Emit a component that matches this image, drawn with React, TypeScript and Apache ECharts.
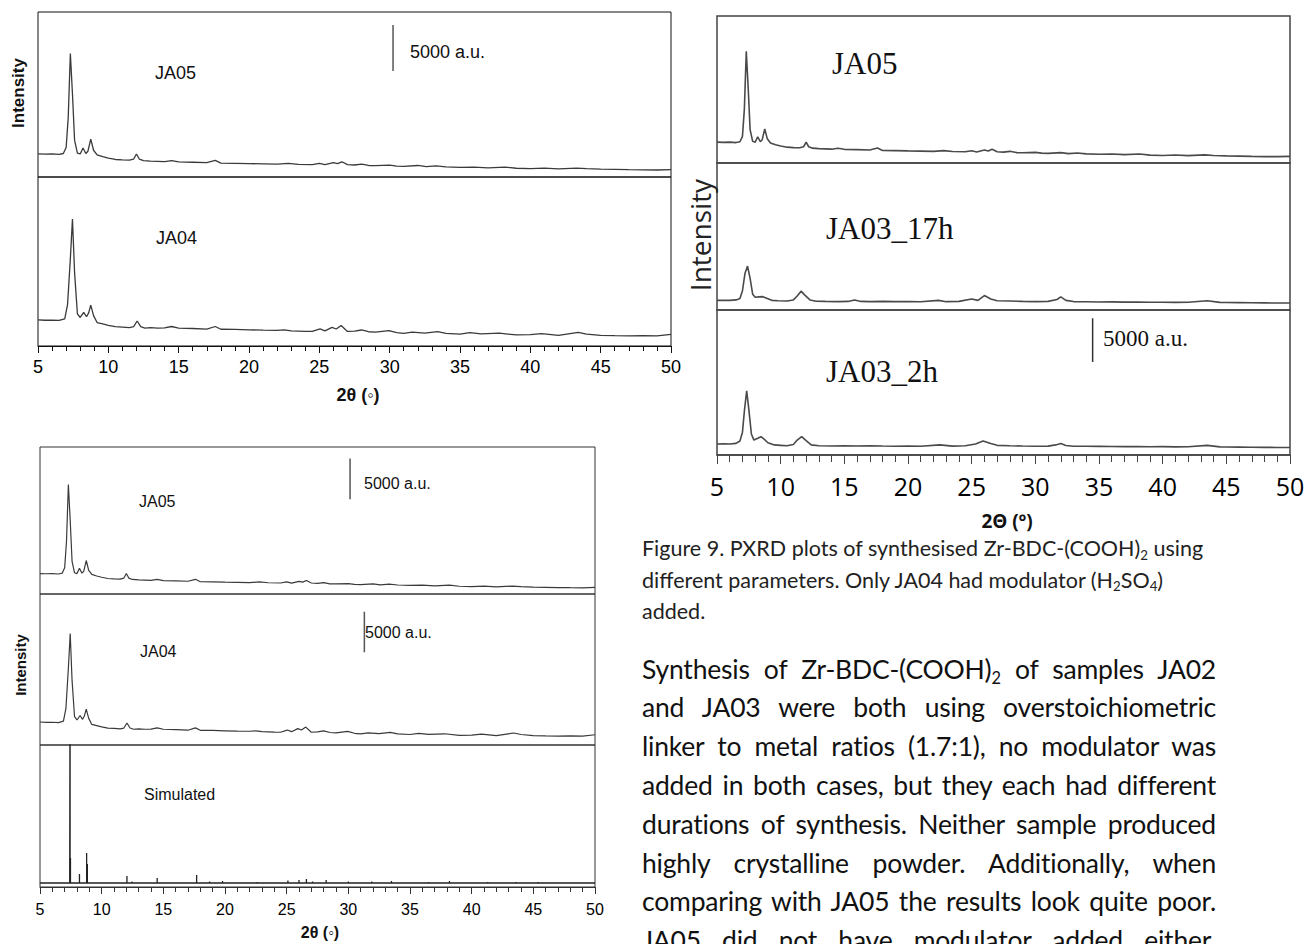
import React, { useEffect, useRef } from "react";
import * as echarts from "echarts";

// ---------- data: [2θ (deg), intensity (counts)] ----------
const ja05: number[][] = [
  [5.0, 2500], [5.5, 2480], [6.0, 2500], [6.5, 2450], [6.8, 2550], [7.0, 3200], [7.15, 6500], [7.3, 13400],
  [7.45, 9000], [7.6, 4000], [7.8, 2600], [8.0, 2500], [8.2, 3150], [8.4, 2550], [8.55, 2800], [8.75, 4100],
  [8.95, 2900], [9.2, 2400], [9.6, 2200], [10.0, 2050], [10.5, 1900], [11.0, 1850], [11.5, 1830], [11.8, 1950],
  [12.0, 2500], [12.2, 1950], [12.5, 1780], [13.0, 1720], [13.5, 1700], [14.0, 1660], [14.5, 1780], [15.0, 1640],
  [16.0, 1600], [17.0, 1560], [17.6, 1800], [18.0, 1500], [19.0, 1480], [20.0, 1450], [21.0, 1430], [22.0, 1400],
  [22.8, 1480], [23.5, 1380], [24.5, 1350], [25.0, 1480], [25.4, 1330], [26.0, 1550], [26.3, 1450], [26.6, 1650],
  [27.0, 1350], [27.5, 1300], [28.0, 1400], [28.5, 1250], [29.0, 1230], [30.0, 1280], [30.5, 1180], [31.0, 1150],
  [32.0, 1250], [32.6, 1120], [33.3, 1200], [34.0, 1100], [35.0, 1050], [36.0, 1080], [37.0, 1000], [38.2, 1080],
  [39.0, 950], [40.0, 900], [41.0, 960], [42.0, 880], [43.3, 970], [44.0, 900], [45.0, 850], [46.0, 820],
  [47.0, 790], [48.0, 770], [49.0, 760], [50.0, 800],
];

const ja04: number[][] = [
  [5.0, 2850], [5.5, 2800], [6.0, 2820], [6.5, 2780], [6.9, 2950], [7.1, 4500], [7.3, 9500], [7.45, 13800],
  [7.6, 8000], [7.8, 3500], [8.0, 3100], [8.25, 3650], [8.45, 3180], [8.6, 3600], [8.75, 4450], [8.95, 3300],
  [9.2, 2550], [9.6, 2400], [10.0, 2250], [10.5, 2100], [11.0, 2050], [11.5, 2000], [11.8, 2100], [12.05, 2720],
  [12.3, 2100], [12.6, 1950], [13.0, 1990], [13.5, 1950], [14.0, 1960], [14.5, 2120], [15.0, 1950], [16.0, 1900],
  [17.0, 1830], [17.6, 2120], [18.0, 1820], [19.0, 1800], [20.0, 1760], [21.0, 1720], [22.0, 1700], [22.5, 1760],
  [23.0, 1650], [24.0, 1600], [24.5, 1580], [25.05, 1850], [25.4, 1650], [25.9, 2030], [26.2, 1850], [26.55, 2220],
  [27.0, 1580], [27.5, 1620], [28.0, 1740], [28.5, 1550], [29.0, 1500], [29.95, 1680], [30.5, 1450], [31.0, 1380],
  [31.6, 1500], [32.5, 1400], [33.4, 1560], [34.0, 1380], [35.0, 1300], [35.7, 1450], [36.5, 1320], [37.8, 1390],
  [39.0, 1200], [40.0, 1230], [40.8, 1340], [42.0, 1160], [43.4, 1490], [44.0, 1300], [45.0, 1150], [46.0, 1120],
  [47.0, 1100], [48.0, 1120], [49.0, 1110], [50.0, 1270],
];

const ja03_17h: number[][] = [
  [5.0, 1100], [5.5, 1120], [6.0, 1100], [6.5, 1150], [6.8, 1300], [7.0, 2200], [7.2, 4200], [7.4, 5000],
  [7.6, 3600], [7.8, 1800], [8.0, 1450], [8.3, 1500], [8.6, 1520], [8.9, 1350], [9.3, 1100], [9.8, 1050],
  [10.5, 1020], [11.0, 1150], [11.3, 1600], [11.6, 2150], [11.9, 1700], [12.3, 1150], [12.8, 1000], [13.5, 980],
  [14.5, 960], [15.3, 980], [15.8, 1150], [16.3, 980], [17.0, 960], [18.0, 980], [19.0, 950], [20.0, 960],
  [21.0, 940], [22.4, 1100], [23.0, 950], [24.0, 980], [25.0, 1250], [25.5, 1100], [26.0, 1650], [26.5, 1250],
  [27.0, 1050], [28.0, 1020], [29.0, 980], [30.0, 960], [31.0, 980], [31.7, 1200], [32.0, 1500], [32.4, 1100],
  [33.0, 960], [34.0, 940], [35.0, 920], [36.0, 930], [37.0, 900], [38.0, 910], [39.0, 880], [40.0, 890],
  [41.0, 870], [42.0, 880], [43.5, 1050], [44.5, 870], [45.0, 850], [46.0, 840], [47.0, 820], [48.0, 810],
  [49.0, 800], [50.0, 800],
];

const ja03_2h: number[][] = [
  [5.0, 1250], [5.5, 1270], [6.0, 1260], [6.5, 1320], [6.8, 1600], [7.0, 2600], [7.15, 5000], [7.33, 7300],
  [7.5, 5200], [7.7, 2400], [7.9, 1700], [8.2, 1900], [8.45, 2090], [8.7, 1800], [9.0, 1400], [9.5, 1150],
  [10.0, 1100], [10.5, 1050], [11.0, 1200], [11.3, 1700], [11.65, 2090], [12.0, 1650], [12.4, 1150], [13.0, 1050],
  [14.0, 1030], [15.0, 1040], [16.0, 1020], [17.0, 1050], [18.0, 1020], [19.0, 1000], [20.0, 1020], [21.0, 1000],
  [22.5, 1150], [23.5, 1010], [24.5, 1050], [25.3, 1250], [25.9, 1600], [26.5, 1300], [27.0, 1100], [28.0, 1050],
  [29.0, 1020], [30.0, 1000], [31.0, 1010], [31.6, 1150], [32.0, 1300], [32.4, 1080], [33.0, 1000], [34.0, 990],
  [35.0, 980], [36.0, 970], [37.0, 960], [38.0, 950], [39.0, 940], [40.0, 950], [41.0, 930], [42.0, 940],
  [43.5, 1100], [44.5, 930], [45.0, 920], [46.0, 900], [47.0, 880], [48.0, 870], [49.0, 860], [50.0, 860],
];

// simulated pattern: reflection positions (2θ) and relative intensities
const simPositions = [7.41, 7.44, 7.47, 8.2, 8.78, 8.84, 12.05, 12.46, 14.5, 17.7, 18.75, 19.8, 22.6, 25.1, 26.0,
  26.6, 27.1, 28.2, 30.0, 31.9, 33.5, 36.5, 38.2, 41.3, 43.6, 45.4];
const simIntensities = [25, 250, 25, 9, 30, 19, 7, 1.5, 5, 8, 1.5, 2, 1, 2.5, 3, 4, 1.5, 3, 1.5, 1.5, 2, 1, 2, 1, 1, 1];

const xTickLabels = ["5", "10", "15", "20", "25", "30", "35", "40", "45", "50"];

const paraLines = [
  ["Synthesis of Zr-BDC-(COOH)", "2", " of samples JA02"],
  ["and JA03 were both using overstoichiometric"],
  ["linker to metal ratios (1.7:1), no modulator was"],
  ["added in both cases, but they each had different"],
  ["durations of synthesis. Neither sample produced"],
  ["highly crystalline powder. Additionally, when"],
  ["comparing with JA05 the results look quite poor."],
  ["JA05 did not have modulator added either,"],
];

const SANS = "'Liberation Sans', Arial, sans-serif";
const SERIF = "'Liberation Serif', 'Times New Roman', serif";
const OPEN = "'Open Sans', 'Noto Sans', sans-serif";

export default function App() {
  const ref = useRef<HTMLDivElement>(null);

  useEffect(() => {
    if (!ref.current) return;
    const chart = echarts.init(ref.current, undefined, { renderer: "svg" });

    const grids = [
      { left: 38, top: 12, width: 633, height: 165, bc: "#111", bw: 1 },
      { left: 38, top: 177, width: 633, height: 169, bc: "#111", bw: 1 },
      { left: 717, top: 16, width: 573, height: 147, bc: "#444", bw: 1.5 },
      { left: 717, top: 163, width: 573, height: 147, bc: "#444", bw: 1.5 },
      { left: 717, top: 310, width: 573, height: 145, bc: "#444", bw: 1.5 },
      { left: 40, top: 447, width: 555, height: 147, bc: "#333", bw: 1 },
      { left: 40, top: 594, width: 555, height: 151, bc: "#333", bw: 1 },
      { left: 40, top: 745, width: 555, height: 142, bc: "#333", bw: 1 },
    ];
    const yRanges = [
      [0, 17900], [0, 18370], [0, 17640], [0, 16760], [0, 16530], [0, 18000], [0, 18700], [-4, 138],
    ];
    const bottomStyle: Record<number, any> = {
      1: { font: SANS, size: 18, margin: 12, tick: 7, minor: 5, color: "#111", lw: 1 },
      4: { font: OPEN, size: 25, margin: 18, tick: 9, minor: 7, color: "#444", lw: 1.5 },
      7: { font: SANS, size: 16, margin: 14, tick: 7, minor: 5, color: "#333", lw: 1 },
    };

    const xAxes = grids.map((_, i) => {
      const b = bottomStyle[i];
      if (!b) return { type: "value", gridIndex: i, min: 5, max: 50, interval: 5, show: false };
      return {
        type: "value", gridIndex: i, min: 5, max: 50, interval: 5,
        axisLine: { show: true, onZero: false, lineStyle: { color: b.color, width: b.lw } },
        axisTick: { show: true, inside: false, length: b.tick, lineStyle: { color: b.color, width: 1 } },
        minorTick: { show: true, splitNumber: 5, length: b.minor, lineStyle: { color: b.color, width: 1 } },
        splitLine: { show: false },
        minorSplitLine: { show: false },
        axisLabel: {
          show: true, margin: b.margin, fontSize: b.size, fontFamily: b.font, color: "#000",
          showMinLabel: true, showMaxLabel: true,
          formatter: (v: number) => xTickLabels[Math.round((v - 5) / 5)] ?? "",
        },
      };
    });
    const yAxes = grids.map((_, i) => ({
      type: "value", gridIndex: i, min: yRanges[i][0], max: yRanges[i][1], show: false,
    }));

    // stick pattern: baseline runs over the whole 2θ range of the axis
    const simData: number[][] = [[5, 0]];
    simPositions.forEach((p, k) => {
      simData.push([p, 0], [p, simIntensities[k]], [p, 0]);
    });
    simData.push([50, 0]);

    const lineSeries = (data: any, gi: number, color: string, width: number) => ({
      type: "line", data, xAxisIndex: gi, yAxisIndex: gi, symbol: "none", showSymbol: false,
      silent: true, clip: true, lineStyle: { color, width }, smooth: false,
    });

    const series = [
      lineSeries(ja05, 0, "#3a3a3a", 1.3),
      lineSeries(ja04, 1, "#3a3a3a", 1.3),
      lineSeries(ja05, 2, "#4a4a4a", 1.6),
      lineSeries(ja03_17h, 3, "#4a4a4a", 1.6),
      lineSeries(ja03_2h, 4, "#4a4a4a", 1.6),
      lineSeries(ja05, 5, "#3a3a3a", 1.2),
      lineSeries(ja04, 6, "#3a3a3a", 1.2),
      lineSeries(simData, 7, "#222", 1.3),
      // 5000 a.u. scale bars
      lineSeries([[30.24, 11500], [30.24, 16500]], 0, "#555", 1.5),
      lineSeries([[34.5, 10600], [34.5, 15600]], 4, "#333", 1.5),
      lineSeries([[30.14, 11600], [30.14, 16600]], 5, "#555", 1.5),
      lineSeries([[31.3, 11500], [31.3, 16500]], 6, "#555", 1.5),
    ];

    const txt = (text: string, x: number, y: number, font: string, size: number, opts: any = {}) => ({
      type: "text", x, y, rotation: opts.rot ?? 0,
      style: {
        text, fontFamily: font, fontSize: size, fontWeight: opts.bold ? "bold" : "normal",
        fill: opts.color ?? "#111", textAlign: opts.align ?? "left", textVerticalAlign: "middle",
      },
    });

    const graphics = [
      // Figure A
      txt("JA05", 155, 73, SANS, 18),
      txt("JA04", 156, 238, SANS, 18),
      txt("5000 a.u.", 410, 52, SANS, 18),
      txt("2θ (◦)", 358, 395, SANS, 18, { bold: true, align: "center" }),
      txt("Intensity", 18, 93, SANS, 17, { bold: true, align: "center", rot: Math.PI / 2 }),
      // Figure B
      txt("JA05", 832, 63, SERIF, 31),
      txt("JA03_17h", 826, 228, SERIF, 31),
      txt("JA03_2h", 826, 371, SERIF, 31),
      txt("5000 a.u.", 1103, 338, SERIF, 23),
      txt("2Θ (º)", 1007, 521, OPEN, 19, { bold: true, align: "center" }),
      txt("Intensity", 700, 235, OPEN, 28, { align: "center", rot: Math.PI / 2, color: "#222" }),
      // Figure C
      txt("JA05", 139, 501, SANS, 16),
      txt("5000 a.u.", 364, 483, SANS, 16),
      txt("JA04", 140, 651, SANS, 16),
      txt("5000 a.u.", 365, 632, SANS, 16),
      txt("Simulated", 144, 794, SANS, 16),
      txt("2θ (◦)", 320, 932, SANS, 16, { bold: true, align: "center" }),
      txt("Intensity", 20, 665, SANS, 15, { bold: true, align: "center", rot: Math.PI / 2 }),
    ];

    chart.setOption({
      animation: false,
      backgroundColor: "#fff",
      grid: grids.map((g) => ({
        left: g.left, top: g.top, width: g.width, height: g.height,
        show: true, borderColor: g.bc, borderWidth: g.bw, backgroundColor: "transparent",
        containLabel: false,
      })),
      xAxis: xAxes,
      yAxis: yAxes,
      series,
      graphic: { elements: graphics },
    });
    return () => chart.dispose();
  }, []);

  const sub = (s: string) => (
    <span style={{ fontSize: "0.62em", position: "relative", top: "0.3em", lineHeight: 0 }}>{s}</span>
  );

  return (
    <div style={{ position: "absolute", left: 0, top: 0, width: 1308, height: 944, overflow: "hidden", background: "#fff" }}>
      <div ref={ref} style={{ position: "absolute", left: 0, top: 0, width: 1308, height: 944 }} />
      <div
        style={{
          position: "absolute", left: 642, top: 533, width: 650, fontFamily: "Lato, 'Open Sans', sans-serif",
          fontSize: 21.5, lineHeight: "31.5px", color: "#222", whiteSpace: "nowrap",
        }}
      >
        <div>Figure 9. PXRD plots of synthesised Zr-BDC-(COOH){sub("2")} using</div>
        <div>different parameters. Only JA04 had modulator (H{sub("2")}SO{sub("4")})</div>
        <div>added.</div>
      </div>
      <div
        style={{
          position: "absolute", left: 642, top: 649.6, width: 574, fontFamily: "Lato, 'Open Sans', sans-serif",
          fontSize: 26.5, lineHeight: "38.8px", color: "#111",
        }}
      >
        {paraLines.map((parts, i) => (
          <div key={i} style={{ textAlign: "justify", textAlignLast: "justify", letterSpacing: "-0.2px" }}>
            {parts.length === 3 ? (<>{parts[0]}{sub(parts[1])}{parts[2]}</>) : parts[0]}
          </div>
        ))}
      </div>
    </div>
  );
}
